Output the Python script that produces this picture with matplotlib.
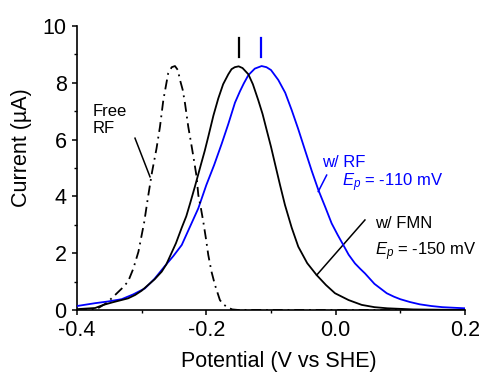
import matplotlib
matplotlib.use("Agg")
import matplotlib.pyplot as plt
from matplotlib.ticker import MultipleLocator, FormatStrFormatter

plt.rcParams['font.family'] = ['Liberation Sans', 'DejaVu Sans']
plt.rcParams['mathtext.fontset'] = 'custom'
plt.rcParams['mathtext.rm'] = 'Liberation Sans'
plt.rcParams['mathtext.it'] = 'Liberation Sans:italic'
plt.rcParams['axes.unicode_minus'] = False

# Data (potential in V vs SHE, current in uA)
fmn_v = [-0.400, -0.386, -0.372, -0.359, -0.345, -0.321, -0.310, -0.300, -0.290,
         -0.280, -0.269, -0.262, -0.256, -0.247, -0.238, -0.231, -0.225, -0.2176,
         -0.208, -0.2025, -0.197, -0.189, -0.1815, -0.174, -0.166, -0.161, -0.156,
         -0.150, -0.144, -0.135, -0.128, -0.1197, -0.113, -0.1067, -0.100, -0.0938,
         -0.086, -0.0784, -0.068, -0.0578, -0.044, -0.0294, -0.015, -0.001, 0.020,
         0.0403, 0.060, 0.080, 0.120, 0.160, 0.200]
fmn_i = [0.03, 0.05, 0.07, 0.18, 0.27, 0.41, 0.53, 0.68, 0.88,
         1.08, 1.35, 1.6, 1.9, 2.35, 2.9, 3.3, 3.76, 4.35,
         5.15, 5.6, 6.1, 6.85, 7.45, 7.95, 8.3, 8.48, 8.55,
         8.58, 8.52, 8.3, 7.95, 7.39, 6.9, 6.34, 5.75, 5.15,
         4.4, 3.7, 2.9, 2.23, 1.65, 1.23, 0.88, 0.59, 0.35,
         0.18, 0.1, 0.06, 0.02, 0.01, 0.0]

rf_v = [-0.400, -0.386, -0.372, -0.352, -0.331, -0.313, -0.295, -0.280, -0.264,
        -0.251, -0.238, -0.2253, -0.2124, -0.200, -0.188, -0.1763, -0.166, -0.1557,
        -0.148, -0.142, -0.135, -0.125, -0.1145, -0.107, -0.100, -0.0887, -0.078,
        -0.068, -0.058, -0.0474, -0.037, -0.0268, -0.016, -0.0062, 0.003, 0.0118,
        0.020, 0.0299, 0.038, 0.0453, 0.060, 0.079, 0.090, 0.100, 0.115, 0.130,
        0.148, 0.165, 0.182, 0.200]
rf_i = [0.14, 0.19, 0.24, 0.3, 0.38, 0.55, 0.76, 1.1, 1.55,
        1.9, 2.29, 2.93, 3.58, 4.4, 5.1, 5.85, 6.55, 7.3,
        7.7, 7.98, 8.27, 8.5, 8.59, 8.55, 8.45, 8.1, 7.65,
        7.04, 6.38, 5.63, 4.9, 4.23, 3.62, 3.05, 2.65, 2.29,
        1.95, 1.64, 1.45, 1.29, 0.92, 0.59, 0.47, 0.38, 0.28, 0.2,
        0.14, 0.1, 0.08, 0.06]

free_v = [-0.400, -0.380, -0.367, -0.354, -0.341, -0.331, -0.321, -0.313, -0.305,
          -0.296, -0.290, -0.284, -0.277, -0.2717, -0.2665, -0.259, -0.2535,
          -0.2485, -0.244, -0.2407, -0.2365, -0.233, -0.2279, -0.2237, -0.220,
          -0.215, -0.2124, -0.2085, -0.2047, -0.2005, -0.197, -0.192, -0.1866,
          -0.179, -0.174, -0.1685, -0.164, -0.160, -0.150, 0.200]
free_i = [0.0, 0.0, 0.07, 0.25, 0.53, 0.75, 1.0, 1.45, 2.05,
          3.1, 4.0, 4.85, 5.69, 6.45, 7.39, 8.33, 8.55,
          8.59, 8.45, 8.1, 7.75, 7.28, 6.45, 5.9, 5.4,
          4.69, 4.05, 3.6, 3.11, 2.5, 1.94, 1.35, 0.88,
          0.35, 0.2, 0.12, 0.06, 0.02, 0.0, 0.0]

blue = '#0000ff'

fig = plt.figure(figsize=(4.83, 3.78), dpi=100)
ax = fig.add_axes([0.1594, 0.1799, 0.8033, 0.7513])

ax.plot(rf_v, rf_i, color=blue, lw=1.3, zorder=3)
ax.plot(fmn_v, fmn_i, color='black', lw=1.3, zorder=4)
ax.plot(free_v, free_i, color='black', lw=1.3, dashes=[5.5, 2.7, 1, 2.7], zorder=4)

# peak markers
ax.plot([-0.150, -0.150], [8.9, 9.57], color='black', lw=1.6)
ax.plot([-0.116, -0.116], [8.9, 9.57], color=blue, lw=1.6)

# annotation pointers
ax.plot([-0.3103, -0.2871], [6.05, 4.69], color='black', lw=1.1)
ax.plot([-0.0139, -0.0269], [4.75, 4.17], color=blue, lw=1.1)
ax.plot([0.0453, -0.0293], [3.17, 1.23], color='black', lw=1.1)

ax.text(-0.376, 6.23, 'Free\nRF', fontsize=12, ha='left', va='baseline', linespacing=1.2)
ax.text(-0.0216, 5.05, 'w/ RF', fontsize=12, color=blue, ha='left', va='baseline')
ax.text(0.0093, 4.34, '$E_p$ = -110 mV', fontsize=12, color=blue, ha='left', va='baseline')
ax.text(0.0608, 2.88, 'w/ FMN', fontsize=12, ha='left', va='baseline')
ax.text(0.0608, 1.94, '$E_p$ = -150 mV', fontsize=12, ha='left', va='baseline',
        clip_on=False)

ax.set_xlim(-0.4, 0.2)
ax.set_ylim(0, 10)
ax.xaxis.set_major_locator(MultipleLocator(0.2))
ax.xaxis.set_minor_locator(MultipleLocator(0.1))
ax.yaxis.set_major_locator(MultipleLocator(2))
ax.yaxis.set_minor_locator(MultipleLocator(1))
ax.xaxis.set_major_formatter(FormatStrFormatter('%.1f'))

for s in ['top', 'right']:
    ax.spines[s].set_visible(False)
for s in ['left', 'bottom']:
    ax.spines[s].set_linewidth(1.2)
ax.tick_params(which='major', direction='out', length=3.5, width=1.1,
               labelsize=15.5, pad=4)
ax.tick_params(which='minor', direction='out', length=2, width=1.0)

ax.set_xlabel('Potential (V vs SHE)', fontsize=15.5)
ax.set_ylabel('Current (\u00b5A)', fontsize=15.5)
ax.xaxis.set_label_coords(0.52, -0.145)
ax.yaxis.set_label_coords(-0.115, 0.57)

fig.savefig('out.png', dpi=100)
